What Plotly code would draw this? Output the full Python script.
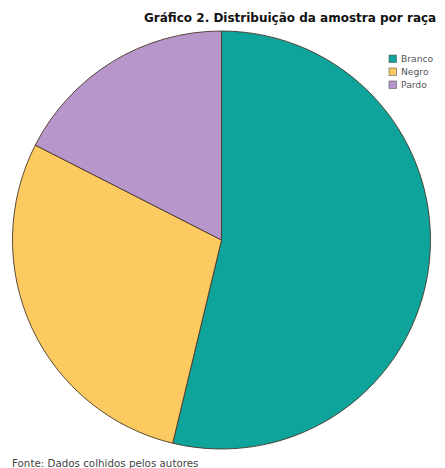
import plotly.graph_objects as go

# Sample composition by race (counts)
categorias = ["Branco", "Negro", "Pardo"]
valores = [43, 23, 14]
cores = ["#0ea39b", "#fdca62", "#b696cb"]

W, H = 445, 468
CX, CY, R = 221.5, 240, 209

fig = go.Figure(
    go.Pie(
        labels=categorias,
        values=valores,
        sort=False,
        direction="clockwise",
        rotation=0,
        marker=dict(colors=cores, line=dict(color="#4a3828", width=0.9)),
        textinfo="none",
        hoverinfo="label+value+percent",
        showlegend=False,
        domain=dict(x=[(CX - R) / W, (CX + R) / W],
                    y=[(H - CY - R) / H, (H - CY + R) / H]),
    )
)

# Compact legend: small swatches with labels at the top right
leg_x, leg_y, step, sw = 389, 55, 13, 7.5
for i, (cat, cor) in enumerate(zip(categorias, cores)):
    y0 = leg_y + i * step
    fig.add_shape(type="rect", xref="paper", yref="paper",
                  x0=leg_x / W, x1=(leg_x + sw) / W,
                  y0=1 - (y0 + sw) / H, y1=1 - y0 / H,
                  fillcolor=cor, line=dict(color="#555555", width=0.6))
    fig.add_annotation(xref="paper", yref="paper", x=(leg_x + 10) / W,
                       y=1 - (y0 + sw / 2) / H, text=cat, showarrow=False,
                       xanchor="left", yanchor="middle",
                       font=dict(family="DejaVu Sans", size=9.2, color="#555555"))

fig.add_annotation(xref="paper", yref="paper", x=438 / W, y=1 - 18 / H,
                   text="<b>Gráfico 2. Distribuição da amostra por raça</b>",
                   showarrow=False, xanchor="right", yanchor="middle",
                   font=dict(family="DejaVu Sans", size=12, color="#111111"))

fig.add_annotation(xref="paper", yref="paper", x=10 / W, y=1 - 463 / H,
                   text="Fonte: Dados colhidos pelos autores",
                   showarrow=False, xanchor="left", yanchor="middle",
                   font=dict(family="DejaVu Sans", size=10.3, color="#444444"))

fig.update_layout(
    width=W, height=H,
    margin=dict(l=0, r=0, t=0, b=0),
    paper_bgcolor="white",
    plot_bgcolor="white",
)

fig.write_html("out.html")
